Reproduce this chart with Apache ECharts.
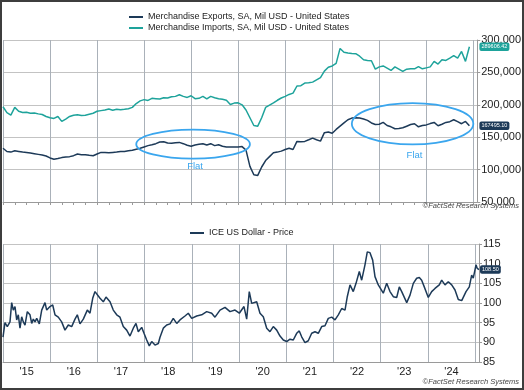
<!DOCTYPE html>
<html><head><meta charset="utf-8">
<script src="https://cdn.jsdelivr.net/npm/echarts@6/dist/echarts.min.js"></script>
<style>html,body{margin:0;padding:0;background:#fff}#c{width:524px;height:390px}</style>
</head><body><div id="c"></div>
<script>
// Month categories, Jan 2015 .. Feb 2025
const months = [];
for (let y = 2015; y <= 2025; y++) for (let m = 1; m <= 12; m++) { if (y === 2025 && m > 2) break; months.push(y + '-' + String(m).padStart(2, '0')); }

const exportsName = 'Merchandise Exports, SA, Mil USD - United States';
const importsName = 'Merchandise Imports, SA, Mil USD - United States';
const dollarName = 'ICE US Dollar - Price';

// Monthly values, Jan 2015 .. Dec 2024 (Mil USD)
const exportsValues = [
133000,128000,127000,129000,128000,127000,126500,125500,124500,123500,122500,121000,
118000,116000,117000,118500,119500,120000,121500,124000,123000,123000,122000,121400,
124000,126500,126500,126000,126500,127000,128000,128000,129000,130000,131500,133000,
135000,137000,138400,140000,142500,143000,141000,140500,141500,142000,140000,137500,
136000,138000,139000,140000,138000,140000,137000,138400,136000,135000,134700,134700,
135000,135500,130000,105000,92000,91000,104000,114000,120000,126000,127000,128500,
131000,133000,131000,143500,143000,143500,146000,148600,146000,144000,157000,158000,
156000,162000,167000,172000,177000,179500,180000,179500,178000,176000,172000,169500,
170000,172800,168000,166000,163000,163500,164500,167000,169500,170800,166000,168000,
169000,171000,172800,167700,170000,172800,174000,177000,174000,170800,174400,167495.10];
const importsValues = [
197000,188000,184000,196000,190000,188000,188500,187000,187500,186000,185000,182000,
180000,179000,182000,174400,178000,182000,184000,184500,183500,184000,185500,187000,
190000,191000,192000,193400,191500,193000,192400,193000,194000,196000,202000,206000,
208000,206800,210000,209500,209000,211000,210400,212500,213000,215600,213000,211400,
214000,209500,210000,213000,209000,213000,211000,209400,208500,207000,200500,202600,
203000,200000,192000,180000,168000,167000,180000,196000,199500,203000,207000,210500,
213000,216000,218000,229000,229500,233500,234000,235000,238500,242000,252000,258000,
260000,264000,287000,281000,279800,279000,278800,275000,269600,268500,268000,255000,
258500,260000,256600,253000,258500,255000,251500,255000,255500,255500,259000,255500,
257000,258500,267000,262800,269600,268500,272000,276000,272000,282400,267000,289606.42];

// ICE US Dollar index: time (decimal years) and price
const dollarTime = [
2015.000,2015.042,2015.091,2015.148,2015.184,2015.218,2015.254,2015.290,2015.324,2015.360,2015.396,2015.430,2015.466,2015.515,2015.572,2015.608,2015.642,2015.678,2015.714,2015.769,2015.820,2015.890,2015.926,2015.996,
2016.053,2016.102,2016.171,2016.243,2016.313,2016.383,2016.455,2016.525,2016.574,2016.631,2016.701,2016.786,2016.843,2016.900,2016.949,2016.985,
2017.055,2017.125,2017.182,2017.267,2017.336,2017.409,2017.478,2017.548,2017.620,2017.690,2017.760,2017.817,2017.866,2017.938,2017.987,
2018.044,2018.099,2018.150,2018.220,2018.290,2018.326,2018.396,2018.468,2018.538,2018.607,2018.680,2018.749,2018.855,2018.925,2018.997,
2019.103,2019.209,2019.315,2019.421,2019.491,2019.597,2019.703,2019.809,2019.915,
2020.006,2020.105,2020.162,2020.217,2020.268,2020.302,2020.374,2020.444,2020.514,2020.586,2020.656,2020.726,2020.798,2020.868,2020.938,
2021.010,2021.080,2021.149,2021.221,2021.276,2021.327,2021.397,2021.467,2021.539,2021.609,2021.679,2021.751,2021.821,2021.891,2021.963,
2022.033,2022.103,2022.175,2022.245,2022.293,2022.351,2022.420,2022.478,2022.548,2022.598,2022.668,2022.717,2022.774,2022.831,2022.880,2022.950,2022.986,
2023.056,2023.128,2023.198,2023.268,2023.340,2023.395,2023.446,2023.552,2023.622,2023.692,2023.763,2023.819,2023.869,2023.924,2023.975,
2024.009,2024.081,2024.151,2024.242,2024.293,2024.363,2024.433,2024.505,2024.575,2024.645,2024.717,2024.751,2024.808,2024.878,2024.928,2024.962,
2025.020,2025.047,2025.083];
const dollarValues = [
91.3,95.0,94.0,95.2,100.1,98.2,99.1,95.7,97.0,93.6,96.5,95.2,94.4,97.8,97.0,94.8,95.9,95.2,96.1,94.7,98.2,100.1,98.2,99.1,
99.5,97.0,96.4,95.2,93.1,94.4,94.0,95.9,97.0,94.7,95.9,98.2,97.4,101.2,102.9,102.5,
101.2,100.3,101.5,100.3,98.2,97.0,96.4,94.0,93.1,91.6,93.6,94.8,92.7,93.8,92.3,
90.6,89.1,90.2,89.3,89.7,91.3,93.6,94.4,94.7,96.1,94.8,95.7,96.7,97.4,96.1,
96.7,97.0,97.8,97.4,96.4,98.2,98.9,97.8,98.2,
97.4,99.1,95.9,102.9,99.9,99.5,100.3,97.4,96.5,93.6,92.7,94.0,93.1,91.6,90.6,
90.2,90.8,90.6,92.3,92.9,91.4,89.9,90.4,92.3,92.7,92.3,94.0,94.2,96.1,96.4,
95.7,97.0,98.6,98.2,101.6,104.6,102.9,105.0,108.0,105.8,109.7,113.0,112.8,110.9,106.7,104.6,104.1,
102.5,105.0,102.9,101.6,101.4,104.1,102.9,100.1,102.0,105.0,106.3,106.5,105.8,104.1,102.5,
101.4,102.9,103.7,104.6,105.8,104.6,105.4,104.6,103.3,100.9,100.6,100.3,102.9,104.1,107.1,106.3,
109.7,108.8,108.50];

// "Flat" annotations in data terms (month index, value)
const flatNotes = [
  { from: 34.3, to: 63.0, low: 116800, high: 161600, labelAt: 48.5, labelValue: 105400 },
  { from: 89.05, to: 120.16, low: 138900, high: 202600, labelAt: 104.9, labelValue: 121900 }
];

const FONT = "'Liberation Sans', Arial, sans-serif";
const NAVY = '#1d3a58', TEAL = '#1ea39b', FLAT = '#3aa6ee';
const VGRID = '#aab1b9', HGRID = '#c3c3c3', AXIS = '#9a9a9a';

const chart = echarts.init(document.getElementById('c'), null, { renderer: 'canvas' });
const dollarData = dollarTime.map((t, i) => [t, dollarValues[i]]);

const catAxis = (grid, showLabels, tickEvery) => ({
  type: 'category', gridIndex: grid, data: months, boundaryGap: false,
  axisLine: { show: true, onZero: false, lineStyle: { color: AXIS, width: 1 } },
  axisTick: { show: tickEvery > 0, interval: (i) => tickEvery > 0 && i % tickEvery === 0, length: 3, lineStyle: { color: AXIS } },
  axisLabel: { show: showLabels, interval: (i) => i % 12 === 6, margin: 4, fontSize: 11, color: '#222', fontFamily: FONT,
               formatter: (v) => "'" + v.slice(2, 4) },
  splitLine: { show: true, interval: (i) => i % 12 === 0, lineStyle: { color: VGRID, width: 1 } }
});
const valAxis = (grid, min, max, step, fmt) => ({
  type: 'value', gridIndex: grid, position: 'right', min: min, max: max, interval: step,
  axisLine: { show: true, lineStyle: { color: AXIS } },
  axisTick: { show: true, length: 3, lineStyle: { color: AXIS } },
  axisLabel: { margin: 4, fontSize: 11, color: '#222', fontFamily: FONT, formatter: fmt },
  splitLine: { show: true, lineStyle: { color: HGRID, width: 1 } }
});
const endLab = (color, dist, getter) => ({
  show: true, distance: dist, formatter: (p) => getter(p).toFixed(2),
  backgroundColor: color, color: '#fff', fontSize: 5.5, fontFamily: FONT,
  padding: [1.5, 2, 1, 2], borderRadius: 2
});

chart.setOption({
  animation: false,
  backgroundColor: '#fff',
  grid: [
    { left: 3, right: 45, top: 40, bottom: 188 },
    { left: 3, right: 45, top: 244, bottom: 28 }
  ],
  legend: [
    { data: [exportsName, importsName], orient: 'vertical', left: 124, top: 6.5, icon: 'rect', itemWidth: 14, itemHeight: 2, itemGap: 0,
      textStyle: { fontSize: 9, color: '#222', fontFamily: FONT, lineHeight: 11 } },
    { data: [dollarName], left: 185, top: 222.5, icon: 'rect', itemWidth: 14, itemHeight: 2,
      textStyle: { fontSize: 9, color: '#222', fontFamily: FONT, lineHeight: 11 } }
  ],
  xAxis: [
    catAxis(0, false, 3),
    catAxis(1, true, 0),
    { type: 'value', gridIndex: 1, min: 2015, max: 2015 + 121 / 12, show: false }
  ],
  yAxis: [
    valAxis(0, 50000, 300000, 50000, (v) => v.toLocaleString('en-US')),
    valAxis(1, 85, 115, 5, (v) => String(v))
  ],
  series: [
    { name: exportsName, type: 'line', xAxisIndex: 0, yAxisIndex: 0, data: exportsValues, symbol: 'none',
      lineStyle: { color: NAVY, width: 1.5 }, itemStyle: { color: NAVY },
      endLabel: endLab(NAVY, 10, (p) => p.value) },
    { name: importsName, type: 'line', xAxisIndex: 0, yAxisIndex: 0, data: importsValues, symbol: 'none',
      lineStyle: { color: TEAL, width: 1.5 }, itemStyle: { color: TEAL },
      endLabel: endLab(TEAL, 10, (p) => p.value) },
    { name: dollarName, type: 'line', xAxisIndex: 2, yAxisIndex: 1, data: dollarData, symbol: 'none',
      lineStyle: { color: NAVY, width: 1.5 }, itemStyle: { color: NAVY },
      endLabel: endLab(NAVY, 1, (p) => p.value[1]) }
  ]
});

const graphics = [
  { type: 'rect', silent: true, z: 100, shape: { x: 1, y: 1, width: 522, height: 388 },
    style: { fill: 'none', stroke: '#3d3d3d', lineWidth: 2 } },
  { type: 'text', silent: true, z: 100, x: 519, y: 206,
    style: { text: '©FactSet Research Systems', align: 'right', verticalAlign: 'middle', fill: '#444',
             fontSize: 7.5, fontStyle: 'italic', fontFamily: FONT } },
  { type: 'text', silent: true, z: 100, x: 519, y: 382,
    style: { text: '©FactSet Research Systems', align: 'right', verticalAlign: 'middle', fill: '#444',
             fontSize: 7.5, fontStyle: 'italic', fontFamily: FONT } }
];
flatNotes.forEach((n) => {
  const a = chart.convertToPixel({ xAxisIndex: 0, yAxisIndex: 0 }, [n.from, n.high]);
  const b = chart.convertToPixel({ xAxisIndex: 0, yAxisIndex: 0 }, [n.to, n.low]);
  const l = chart.convertToPixel({ xAxisIndex: 0, yAxisIndex: 0 }, [n.labelAt, n.labelValue]);
  graphics.push({ type: 'ellipse', silent: true, z: 50,
    shape: { cx: (a[0] + b[0]) / 2, cy: (a[1] + b[1]) / 2, rx: Math.abs(b[0] - a[0]) / 2, ry: Math.abs(b[1] - a[1]) / 2 },
    style: { fill: 'none', stroke: FLAT, lineWidth: 1.8 } });
  graphics.push({ type: 'text', silent: true, z: 50, x: l[0], y: l[1],
    style: { text: 'Flat', align: 'center', verticalAlign: 'middle', fill: FLAT, fontSize: 9.5, fontFamily: FONT } });
});
chart.setOption({ graphic: graphics });
</script></body></html>
